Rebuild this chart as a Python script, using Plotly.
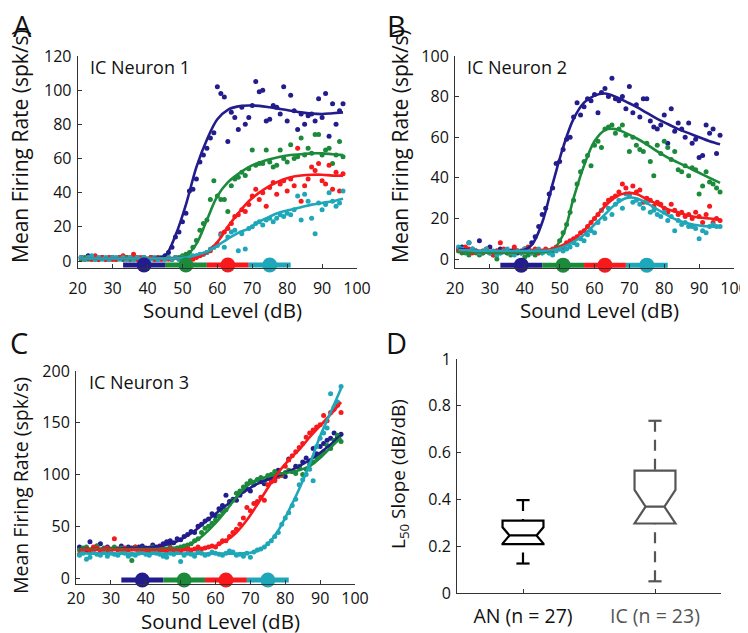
import plotly.graph_objects as go

# ---------------- data ----------------
levels = list(range(21, 97))          # sound levels of measured points (dB)
x_fit = [21, 24, 27, 30, 33, 36, 39, 42, 45, 48, 51, 54, 57, 60, 63, 66, 69, 72, 75, 78, 81, 84, 87, 90, 93, 96]

series_names = ["blue", "green", "red", "cyan"]
colors = ["#221c8c", "#1b8a3a", "#f7191c", "#1ea7b8"]

# stimulus (masker) bars under the curves
stim_lo = [33, 45, 57, 69]
stim_hi = [45, 57, 69, 81]
stim_mid = [39, 51, 63, 75]

# ---- Panel A: IC Neuron 1 ----
A_pts_blue = [2, 1, 3, 1, 2, 1, 2, 1, 1, 2, 1, 2, 1, 2, 1, 1, 2, 1, 2, 1, 2, 1, 1, 2,
              3, 5, 8, 14, 17, 23, 28, 41, 42, 48, 58, 62, 66, 72, 75, 102, 98, 96, 70, 87, 84, 77, 90, 80, 84, 91,
              105, 99, 100, 82, 83, 91, 90, 86, 102, 82, 97, 88, 77, 86, 80, 85, 86, 82, 95, 84, 98, 73, 92, 80, 88, 92]
A_pts_green = [1, 2, 1, 2, 1, 1, 2, 1, 2, 1, 1, 2, 1, 2, 1, 2, 1, 1, 2, 1, 2, 1, 2, 1, 1, 2, 1, 2,
               2, 3, 4, 5, 8, 12, 18, 22, 24, 36, 47, 38, 36, 36, 29, 44, 48, 49, 52, 50, 54, 65, 56, 57, 57, 65,
               58, 55, 56, 65, 60, 58, 68, 60, 61, 72, 62, 66, 63, 74, 74, 62, 65, 66, 57, 62, 70, 61]
A_pts_red = [2, 1, 2, 1, 3, 1, 2, 1, 2, 1, 1, 2, 3, 1, 2, 4, 1, 2, 1, 1, 2, 1, 2, 1, 2, 1, 1, 2, 1, 2, 1, 2, 1,
             2, 3, 4, 5, 6, 8, 10, 16, 17, 19, 22, 26, 27, 30, 29, 33, 38, 42, 36, 40, 32, 43, 46, 39, 45, 47,
             41, 48, 44, 66, 35, 44, 48, 55, 53, 57, 47, 45, 56, 42, 52, 41, 51]
A_pts_cyan = [2, 1, 2, 3, 1, 2, 1, 2, 1, 2, 2, 1, 2, 1, 2, 1, 2, 1, 2, 1, 1, 2, 1, 2, 1, 2, 1, 2, 1, 2,
              2, 2, 3, 3, 4, 4, 5, 7, 8, 9, 15, 8, 14, 17, 18, 6, 16, 7, 19, 20, 22, 23, 21, 24, 25, 23, 25, 27,
              26, 28, 27, 30, 38, 24, 39, 35, 25, 16, 34, 30, 33, 40, 35, 32, 34, 41]
A_fit_blue = [1.5, 1.5, 1.5, 1.5, 1.5, 1.5, 1.5, 1.7, 3, 15, 33, 55, 71, 83, 88.5, 90.5, 91, 90.8, 90, 89, 88, 87, 86.3, 86, 86.5, 87]
A_fit_green = [1.5, 1.5, 1.5, 1.5, 1.5, 1.5, 1.5, 1.5, 1.5, 1.8, 3, 10, 24, 38, 46, 51, 55, 57.5, 59.5, 61, 62, 62.5, 63, 63, 62.5, 62]
A_fit_red = [1.5, 1.5, 1.5, 1.5, 1.5, 1.5, 1.5, 1.5, 1.5, 1.5, 1.5, 2, 5, 11, 20, 28, 35, 40, 44, 47, 49, 50, 50.5, 50.5, 50, 50]
A_fit_cyan = [1.5, 1.5, 1.5, 1.5, 1.5, 1.5, 1.5, 1.5, 1.5, 1.5, 2, 3.5, 5.5, 9, 13, 16.5, 19, 23, 26, 28.5, 30, 31.5, 33, 34, 35, 36.5]

# ---- Panel B: IC Neuron 2 ----
B_pts_blue = [5, 6, 4, 8, 5, 4, 9, 3, 4, 6, 3, 4, 5, 4, 3, 4, 5, 3, 4, 5,
              5, 8, 11, 16, 22, 25, 32, 35, 47, 48, 54, 59, 60, 70, 77, 71, 75, 79, 78, 81, 72, 82, 84, 80, 89, 79,
              78, 80, 74, 85, 72, 76, 70, 79, 79, 68, 65, 64, 66, 71, 57, 74, 63, 67, 64, 60, 67, 57, 59, 50, 51, 66,
              62, 64, 52, 61]
B_pts_green = [4, 3, 3, 2, 4, 3, 2, 3, 4, 3, 2, 0, 3, 4, 3, 2, 3, 4, 3, 1, 2, 3, 2, 3, 3, 4, 3,
               4, 5, 9, 13, 17, 23, 29, 37, 43, 48, 51, 46, 56, 58, 55, 64, 65, 66, 62, 64, 66, 61, 53, 60, 56, 54,
               53, 57, 48, 41, 56, 52, 58, 55, 49, 53, 44, 43, 46, 41, 45, 44, 32, 36, 43, 38, 37, 35, 33]
B_pts_red = [5, 4, 6, 5, 3, 4, 3, 4, 5, 3, 2, 4, 8, 5, 4, 3, 6, 4, 3, 5, 6, 4, 5, 3, 4, 5, 4, 5, 6, 5,
             6, 8, 9, 10, 11, 13, 14, 16, 18, 20, 22, 24, 27, 29, 30, 31, 33, 37, 35, 32, 36, 33, 34, 28, 30, 29,
             26, 28, 27, 25, 23, 27, 24, 22, 23, 21, 22, 20, 23, 21, 18, 22, 26, 18, 20, 19]
B_pts_cyan = [6, 5, 4, 8, 5, 4, 3, 4, 5, 3, 4, 2, 3, 4, 5, 3, 2, 4, 3, 5, 4, 3, 4, 5, 3, 4, 3, 2, 4, 5,
              4, 5, 6, 8, 7, 10, 9, 12, 14, 13, 18, 24, 20, 25, 22, 27, 29, 25, 32, 31, 28, 29, 27, 25, 28, 23,
              24, 22, 21, 23, 19, 21, 14, 19, 17, 18, 16, 16, 15, 10, 14, 13, 16, 17, 16, 16]
B_fit_blue = [5, 4.5, 4, 3.8, 3.6, 3.5, 4, 7, 18, 37, 55, 69, 77, 80.5, 81.5, 80, 77.5, 75, 72, 69, 66.5, 64, 62, 60, 58, 56.5]
B_fit_green = [4, 3.5, 3.2, 3, 3, 3, 3, 3, 3.5, 4.5, 12, 30, 46, 58, 63.5, 64, 62, 59.5, 56.5, 53, 50, 47.5, 45, 42.5, 40, 37.5]
B_fit_red = [4.5, 4.3, 4, 4, 4, 4, 4, 4, 4.2, 5, 7, 10, 14, 20, 26, 30.5, 32.5, 32, 29.5, 27, 24.5, 23, 21.5, 20.5, 20, 19.5]
B_fit_cyan = [4.5, 4.3, 4, 4, 4, 4, 4, 4, 4, 4.5, 6, 8.5, 12, 17, 22, 27, 30, 30, 27.5, 24.5, 21.5, 19, 17.5, 16.5, 16, 16]

# ---- Panel C: IC Neuron 3 ----
C_pts_blue = [30, 28, 26, 35, 29, 31, 33, 28, 30, 27, 29, 28, 31, 27, 30, 29, 28, 30, 31, 29, 27, 32, 30, 31,
              33, 35, 36, 34, 38, 37, 40, 42, 45, 44, 50, 52, 55, 57, 62, 60, 67, 70, 80, 74, 76, 75, 80, 84, 86,
              84, 90, 95, 93, 91, 97, 96, 95, 104, 100, 98, 115, 103, 108, 107, 112, 116, 113, 125, 120, 127, 130,
              133, 135, 140, 136, 139]
C_pts_green = [27, 29, 30, 26, 28, 31, 27, 29, 25, 28, 30, 27, 29, 26, 28, 17, 30, 27, 29, 28, 26, 30, 28, 27,
               29, 28, 30, 27, 29,
               30, 31, 32, 33, 36, 38, 44, 48, 50, 53, 56, 60, 64, 66, 72, 75, 82, 84, 88, 91, 94, 92, 95, 97, 94,
               99, 100, 103, 101, 99, 102, 104, 103, 101, 108, 100, 105, 110, 112, 116, 119, 122, 128, 125, 133,
               138, 132]
C_pts_red = [23, 25, 28, 27, 30, 29, 26, 28, 29, 27, 38, 28, 26, 29, 27, 28, 30, 26, 28, 27, 29, 25, 28, 30, 27,
             26, 29, 28, 27, 26, 28, 29, 27, 28, 30,
             28, 29, 30, 31, 30, 33, 36, 36, 40, 44, 47, 52, 58, 68, 65, 72, 74, 78, 75, 90, 93, 94, 98, 100, 108,
             114, 118, 122, 126, 130, 136, 140, 143, 146, 148, 157, 152, 160, 163, 167, 160]
C_pts_cyan = [22, 24, 18, 20, 25, 23, 22, 26, 21, 24, 23, 22, 25, 24, 21, 23, 22, 24, 26, 23, 22, 25, 24, 23, 21,
              20, 24, 23, 25, 16, 22, 24, 23, 21, 25, 24, 22, 23, 25, 24, 23, 22, 24, 26, 25, 22, 23, 21, 24, 20,
              25, 27, 28, 30, 33, 36, 40, 44, 52, 58, 63, 70, 76, 90, 95, 100, 105, 94, 127, 135, 140, 145, 178,
              165, 170, 185]
C_fit_blue = [28, 28, 28, 28, 28.5, 29, 29.5, 30, 31.5, 34, 39, 45.5, 54, 62, 70, 78, 85, 91, 95, 99, 103, 108, 114, 121, 129, 138]
C_fit_green = [28, 28, 28, 28, 28, 28, 28, 28, 28, 29, 30.5, 35, 43, 53, 65, 78, 89, 95, 98, 100.5, 102, 104, 108, 116, 126, 136]
C_fit_red = [27, 27, 27, 27, 27, 27, 27, 27, 27, 27, 27, 27.5, 29, 31, 36, 44, 56, 71, 87, 102, 114, 124, 136, 147, 158, 170]
C_fit_cyan = [24, 23.5, 23.5, 23.5, 23.5, 23.5, 23.5, 23.5, 23.5, 23.5, 23.5, 23.5, 23.5, 23.5, 23.5, 23.5, 24, 26, 33, 46, 65, 86, 110, 137, 160, 183]

# ---- Panel D: L50 slope box plots ----
box_groups = ["AN (n = 27)", "IC (n = 23)"]
box_pos = [1, 2]
box_q1 = [0.209, 0.297]
box_median = [0.246, 0.369]
box_q3 = [0.309, 0.523]
box_lo = [0.126, 0.050]
box_hi = [0.397, 0.736]
box_notch = [0.035, 0.072]
box_colors = ["#000000", "#555555"]

# ---------------- figure ----------------
# the page body has an 8 px margin, so the figure is drawn 8 px smaller and all
# page-pixel positions are shifted by that offset
OFF = 8
W, H = 748 - OFF, 633 - OFF
fig = go.Figure()

def xd(a, b):
    return [(a - OFF) / W, (b - OFF) / W]

def yd(top, bottom):
    return [1 - (bottom - OFF) / H, 1 - (top - OFF) / H]

panels = [
    ("x", "y", [A_pts_blue, A_pts_green, A_pts_red, A_pts_cyan], [A_fit_blue, A_fit_green, A_fit_red, A_fit_cyan], -2.3),
    ("x2", "y2", [B_pts_blue, B_pts_green, B_pts_red, B_pts_cyan], [B_fit_blue, B_fit_green, B_fit_red, B_fit_cyan], -3.0),
    ("x3", "y3", [C_pts_blue, C_pts_green, C_pts_red, C_pts_cyan], [C_fit_blue, C_fit_green, C_fit_red, C_fit_cyan], -2.0),
]

for xa, ya, pts, fits, bar_y in panels:
    for i in range(4):
        fig.add_trace(go.Scatter(x=levels, y=pts[i], mode="markers", xaxis=xa, yaxis=ya,
                                 marker=dict(color=colors[i], size=5, line=dict(width=0)),
                                 showlegend=False, hoverinfo="skip"))
    for i in range(4):
        fig.add_trace(go.Scatter(x=x_fit, y=fits[i], mode="lines", xaxis=xa, yaxis=ya,
                                 line=dict(color=colors[i], width=2.6, shape="spline", smoothing=1.0),
                                 showlegend=False, hoverinfo="skip"))
    for i in range(4):
        fig.add_trace(go.Scatter(x=[stim_lo[i], stim_hi[i]], y=[bar_y, bar_y], mode="lines",
                                 xaxis=xa, yaxis=ya, cliponaxis=False,
                                 line=dict(color=colors[i], width=5),
                                 showlegend=False, hoverinfo="skip"))
    for i in range(4):
        fig.add_trace(go.Scatter(x=[stim_mid[i]], y=[bar_y], mode="markers",
                                 xaxis=xa, yaxis=ya, cliponaxis=False,
                                 marker=dict(color=colors[i], size=15, line=dict(width=0)),
                                 showlegend=False, hoverinfo="skip"))

# Panel D boxes
for i in range(2):
    fig.add_trace(go.Box(x=[box_pos[i]], q1=[box_q1[i]], median=[box_median[i]], q3=[box_q3[i]],
                         lowerfence=[box_q1[i]], upperfence=[box_q3[i]],
                         notched=True, notchspan=[box_notch[i]], notchwidth=[0.17, 0.27][i],
                         width=0.31, xaxis="x4", yaxis="y4",
                         line=dict(color=box_colors[i], width=2.2), fillcolor="rgba(0,0,0,0)",
                         boxpoints=False, showlegend=False, hoverinfo="skip"))
    # dashed whiskers
    fig.add_trace(go.Scatter(x=[box_pos[i], box_pos[i]], y=[box_hi[i], box_q3[i]], mode="lines",
                             xaxis="x4", yaxis="y4", line=dict(color=box_colors[i], width=2.2, dash="11px,8px"),
                             showlegend=False, hoverinfo="skip"))
    fig.add_trace(go.Scatter(x=[box_pos[i], box_pos[i]], y=[box_lo[i], box_q1[i]], mode="lines",
                             xaxis="x4", yaxis="y4", line=dict(color=box_colors[i], width=2.2, dash="11px,8px"),
                             showlegend=False, hoverinfo="skip"))
    # whisker caps
    for v in (box_lo[i], box_hi[i]):
        fig.add_trace(go.Scatter(x=[box_pos[i] - 0.05, box_pos[i] + 0.05], y=[v, v], mode="lines",
                                 xaxis="x4", yaxis="y4", line=dict(color=box_colors[i], width=2.2),
                                 showlegend=False, hoverinfo="skip"))

FONT = "Open Sans"
tickfont = dict(family=FONT, size=16, color="#111")
axcommon = dict(showline=True, linecolor="#333", linewidth=1, ticks="inside", ticklen=4,
                tickcolor="#333", showgrid=False, zeroline=False, tickfont=tickfont, fixedrange=True,
                automargin=False)
xcommon = {**axcommon, "ticklabelstandoff": 6}
ycommon = {**axcommon, "ticklabelstandoff": 2}

fig.update_layout(
    template="none",
    width=W, height=H, margin=dict(l=0, r=0, t=0, b=0, pad=0),
    paper_bgcolor="white", plot_bgcolor="white",
    font=dict(family=FONT, color="#111"),
    xaxis=dict(domain=xd(77.7, 357), range=[20, 100], tickvals=list(range(20, 101, 10)), anchor="y", **xcommon),
    yaxis=dict(domain=yd(56, 268), range=[-4.1, 120], tickvals=list(range(0, 121, 20)), anchor="x", **ycommon),
    xaxis2=dict(domain=xd(455, 734), range=[20, 100], tickvals=list(range(20, 101, 10)), anchor="y2", **xcommon),
    yaxis2=dict(domain=yd(56, 268), range=[-4.4, 100], tickvals=list(range(0, 101, 20)), anchor="x2", **ycommon),
    xaxis3=dict(domain=xd(76, 355), range=[20, 100], tickvals=list(range(20, 101, 10)), anchor="y3", **axcommon),
    yaxis3=dict(domain=yd(371, 584), range=[-5.8, 200], tickvals=list(range(0, 201, 50)), anchor="x3", **ycommon),
    xaxis4=dict(domain=xd(457, 721), range=[0.5, 2.5], tickvals=box_pos,
                ticktext=[box_groups[0], "<span style='color:#555555'>" + box_groups[1] + "</span>"],
                anchor="y4", **{**xcommon, "tickfont": dict(family=FONT, size=19.5, color="#111")}),
    yaxis4=dict(domain=yd(359, 593), range=[0, 1], tickvals=[0, 0.2, 0.4, 0.6, 0.8, 1],
                ticktext=["0", "0.2", "0.4", "0.6", "0.8", "1"], anchor="x4", **ycommon),
)

ann = []
def add_text(x, y, text, size, angle=0, xanchor="center"):
    ann.append(dict(x=(x - OFF) / W, y=1 - (y - OFF) / H, xref="paper", yref="paper", text=text,
                    showarrow=False, font=dict(family=FONT, size=size, color="#111"), textangle=angle,
                    xanchor=xanchor, yanchor="middle"))

# panel letters
add_text(22, 25, "A", 29)
add_text(397, 25, "B", 29)
add_text(19, 342, "C", 29)
add_text(397, 342, "D", 29)
# neuron labels
add_text(88, 67, "IC Neuron 1", 18, xanchor="left")
add_text(465, 67, "IC Neuron 2", 18, xanchor="left")
add_text(87, 382, "IC Neuron 3", 18, xanchor="left")
# axis titles
add_text(222, 310, "Sound Level (dB)", 20.5)
add_text(599, 310, "Sound Level (dB)", 20.5)
add_text(220, 621, "Sound Level (dB)", 20.5)
add_text(20, 146, "Mean Firing Rate (spk/s)", 21, angle=-90)
add_text(400, 146, "Mean Firing Rate (spk/s)", 21, angle=-90)
add_text(20, 486, "Mean Firing Rate (spk/s)", 19.5, angle=-90)
add_text(399, 474, "L<sub>50</sub> Slope (dB/dB)", 19, angle=-90)
fig.update_layout(annotations=ann)

fig.write_html("out.html")
